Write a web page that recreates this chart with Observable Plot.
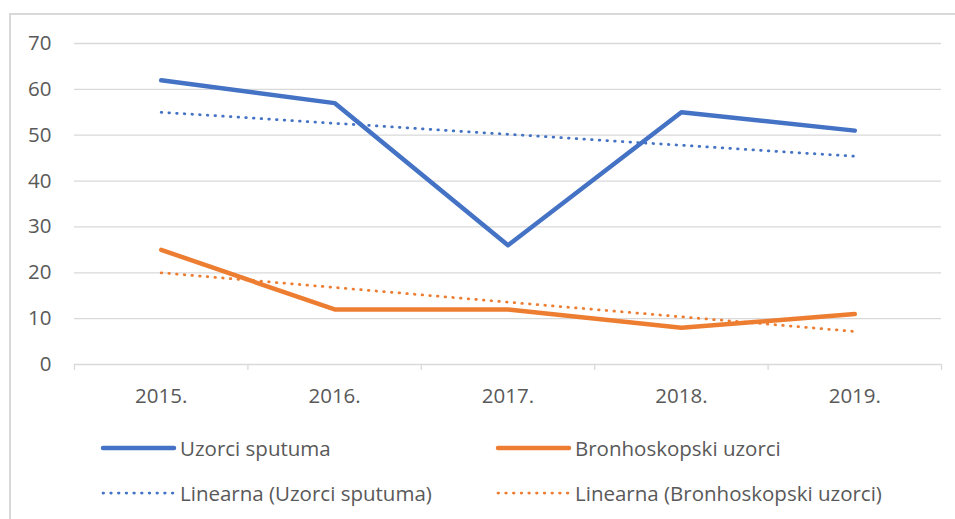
<!DOCTYPE html>
<html><head><meta charset="utf-8">
<script src="https://cdn.jsdelivr.net/npm/d3@7"></script>
<script src="https://cdn.jsdelivr.net/npm/@observablehq/plot@0.6"></script>
<style>
body{margin:0;background:#fff;}
#wrap{position:relative;width:955px;height:519px;overflow:hidden;background:#fff;}
#frame{position:absolute;left:9px;top:13px;width:970px;height:540px;border:2px solid #d9d9d9;box-sizing:border-box;}
#chart{position:absolute;left:0;top:0;}
#legend{position:absolute;left:0;top:420px;}
</style></head><body>
<div id="wrap"><div id="frame"></div><div id="chart"></div><svg id="legend" width="955" height="99"></svg></div>
<script>
const years = ["2015.","2016.","2017.","2018.","2019."];
const sputum = [62, 57, 26, 55, 51];
const bronho = [25, 12, 12, 8, 11];
const trendYears = ["2015.","2019."];
const trendSputum = [55, 45.4];
const trendBronho = [20, 7.2];
const yTicks = [0, 10, 20, 30, 40, 50, 60, 70];
const seriesNames = ["Uzorci sputuma","Bronhoskopski uzorci","Linearna (Uzorci sputuma)","Linearna (Bronhoskopski uzorci)"];
const colors = ["#4472C4", "#ED7D31"];

const idx = y => years.indexOf(y) + 1;
const rows = (vals, cats) => vals.map((v, i) => ({x: idx(cats[i]), y: v}));
const boundaries = d3.range(years.length + 1).map(i => i + 0.5);
const centers = years.map((d, i) => i + 1);

const solid = {strokeWidth: 4.5, strokeLinecap: "round", strokeLinejoin: "round"};
const dotted = {strokeWidth: 2.75, strokeLinecap: "round", strokeDasharray: "0.6 7.1"};

const chart = Plot.plot({
  width: 955, height: 420,
  marginLeft: 74, marginRight: 14, marginTop: 43, marginBottom: 56,
  x: {type: "linear", domain: [0.5, years.length + 0.5]},
  y: {domain: [0, 70]},
  style: {fontFamily: "'Open Sans', sans-serif", fontSize: "20.5px", color: "#595959", background: "transparent"},
  marks: [
    Plot.ruleY(yTicks, {stroke: "#d9d9d9", strokeWidth: 1.3}),
    Plot.axisY(yTicks, {tickSize: 0, tickPadding: 23, label: null, tickFormat: d => String(d)}),
    Plot.axisX(boundaries, {tickSize: 6, tickFormat: () => "", stroke: "#d9d9d9", strokeWidth: 1.3, label: null}),
    Plot.axisX(centers, {tickSize: 0, tickPadding: 24, label: null, tickFormat: i => years[i - 1]}),
    Plot.line(rows(sputum, years), {x: "x", y: "y", stroke: colors[0], ...solid}),
    Plot.line(rows(bronho, years), {x: "x", y: "y", stroke: colors[1], ...solid}),
    Plot.line(rows(trendSputum, trendYears), {x: "x", y: "y", stroke: colors[0], ...dotted}),
    Plot.line(rows(trendBronho, trendYears), {x: "x", y: "y", stroke: colors[1], ...dotted})
  ]
});
document.getElementById("chart").appendChild(chart);

const leg = d3.select("#legend").style("font-family", "'Open Sans', sans-serif").style("font-size", "20.5px");
const items = [
  {name: seriesNames[0], color: colors[0], style: solid, x: 103, row: 0},
  {name: seriesNames[1], color: colors[1], style: solid, x: 498, row: 0},
  {name: seriesNames[2], color: colors[0], style: dotted, x: 103, row: 1},
  {name: seriesNames[3], color: colors[1], style: dotted, x: 498, row: 1}
];
items.forEach(it => {
  const ly = 28 + it.row * 45;
  const l = leg.append("line").attr("x1", it.x).attr("x2", it.x + 71).attr("y1", ly).attr("y2", ly)
    .attr("stroke", it.color).attr("stroke-width", it.style.strokeWidth).attr("stroke-linecap", it.style.strokeLinecap);
  if (it.style.strokeDasharray) l.attr("stroke-dasharray", it.style.strokeDasharray);
  leg.append("text").attr("x", it.x + 77).attr("y", ly + 7.5).attr("fill", "#595959").text(it.name);
});
</script>
</body></html>
